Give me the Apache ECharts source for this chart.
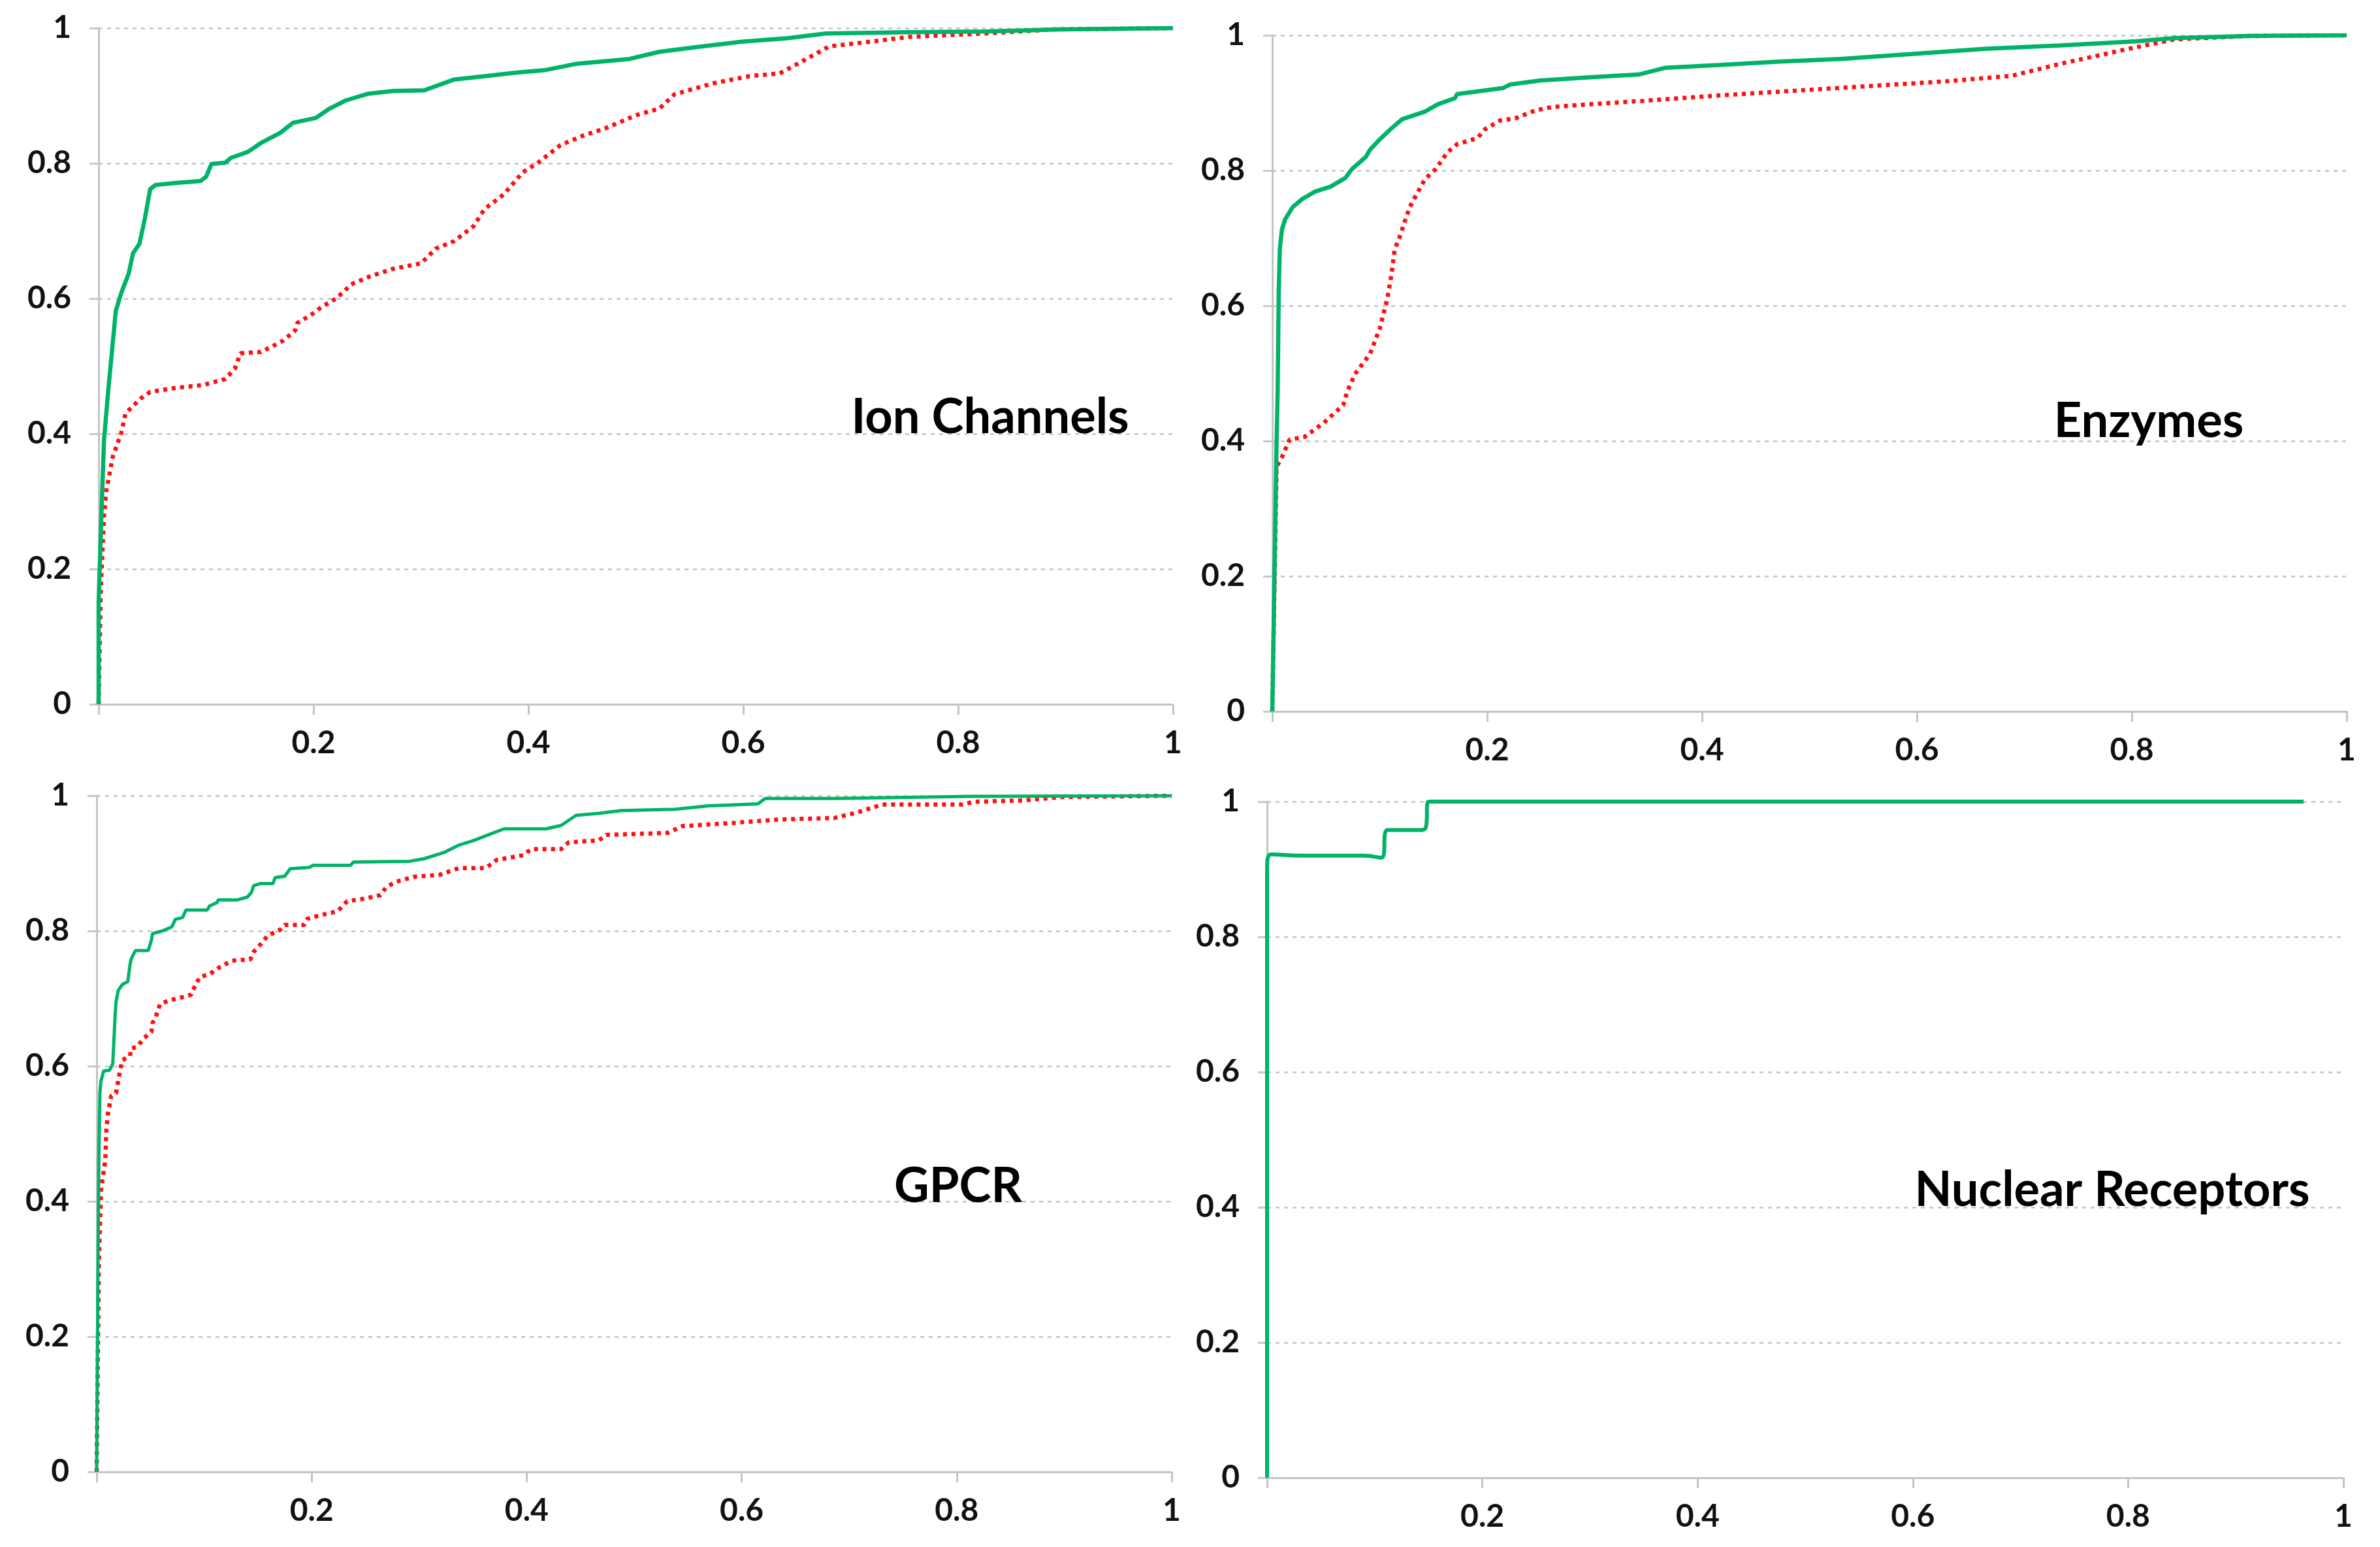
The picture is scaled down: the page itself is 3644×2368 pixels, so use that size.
<!DOCTYPE html>
<html>
<head>
<meta charset="utf-8">
<script src="https://cdn.jsdelivr.net/npm/echarts@6/dist/echarts.min.js"></script>
<style>
html,body{margin:0;padding:0;background:#fff;}
#c{width:3644px;height:2368px;}
</style>
</head>
<body>
<div id="c"></div>
<script>
// ---------- DATA ----------
const panelTitles = ['Ion Channels', 'Enzymes', 'GPCR', 'Nuclear Receptors'];
const xTicks = [0, 0.2, 0.4, 0.6, 0.8, 1];
const yTicks = [0, 0.2, 0.4, 0.6, 0.8, 1];

const ionSolid = [[0,0],[0,0.15],[0.003,0.3],[0.005,0.39],[0.009,0.465],[0.016,0.582],[0.021,0.608],[0.028,0.637],[0.032,0.667],[0.038,0.681],[0.043,0.718],[0.048,0.762],[0.053,0.768],[0.072,0.771],[0.095,0.774],[0.1,0.78],[0.105,0.799],[0.118,0.801],[0.123,0.808],[0.139,0.817],[0.151,0.83],[0.169,0.845],[0.181,0.86],[0.202,0.867],[0.214,0.88],[0.23,0.893],[0.251,0.903],[0.274,0.907],[0.303,0.908],[0.331,0.924],[0.36,0.929],[0.388,0.934],[0.416,0.938],[0.444,0.947],[0.493,0.954],[0.522,0.965],[0.557,0.972],[0.599,0.98],[0.641,0.985],[0.677,0.992],[0.754,0.994],[0.825,0.995],[0.895,0.998],[1,1]];
const ionDotted = [[0,0],[0.002,0.17],[0.005,0.278],[0.007,0.314],[0.013,0.365],[0.021,0.401],[0.025,0.43],[0.039,0.452],[0.048,0.462],[0.072,0.468],[0.097,0.472],[0.118,0.481],[0.127,0.497],[0.132,0.519],[0.151,0.521],[0.165,0.532],[0.172,0.538],[0.183,0.553],[0.185,0.564],[0.197,0.575],[0.207,0.587],[0.221,0.6],[0.228,0.61],[0.235,0.621],[0.253,0.633],[0.274,0.644],[0.3,0.652],[0.314,0.674],[0.331,0.685],[0.349,0.707],[0.359,0.732],[0.377,0.754],[0.395,0.787],[0.409,0.801],[0.43,0.827],[0.451,0.841],[0.472,0.852],[0.5,0.871],[0.522,0.881],[0.536,0.902],[0.571,0.918],[0.606,0.929],[0.634,0.933],[0.655,0.951],[0.68,0.973],[0.719,0.98],[0.754,0.987],[0.825,0.992],[0.888,0.998],[1,1]];

const enzSolid = [[0,0],[0.002,0.2],[0.004,0.398],[0.005,0.474],[0.006,0.62],[0.007,0.684],[0.009,0.713],[0.012,0.728],[0.019,0.746],[0.028,0.758],[0.04,0.769],[0.054,0.776],[0.068,0.789],[0.074,0.802],[0.087,0.82],[0.091,0.831],[0.1,0.846],[0.11,0.861],[0.121,0.876],[0.142,0.887],[0.154,0.898],[0.17,0.907],[0.172,0.913],[0.215,0.922],[0.221,0.927],[0.249,0.933],[0.296,0.938],[0.341,0.942],[0.366,0.952],[0.416,0.956],[0.472,0.961],[0.529,0.965],[0.592,0.972],[0.663,0.98],[0.734,0.985],[0.804,0.991],[0.84,0.996],[0.91,0.999],[1,1]];
const enzDotted = [[0,0],[0.002,0.18],[0.004,0.362],[0.009,0.376],[0.016,0.402],[0.03,0.406],[0.048,0.427],[0.066,0.453],[0.07,0.474],[0.077,0.499],[0.091,0.529],[0.1,0.566],[0.107,0.61],[0.111,0.647],[0.114,0.684],[0.118,0.699],[0.124,0.728],[0.128,0.746],[0.133,0.761],[0.142,0.787],[0.152,0.802],[0.163,0.827],[0.172,0.839],[0.191,0.848],[0.198,0.861],[0.212,0.874],[0.226,0.877],[0.245,0.889],[0.261,0.894],[0.296,0.898],[0.345,0.903],[0.416,0.911],[0.486,0.918],[0.557,0.925],[0.628,0.932],[0.688,0.94],[0.734,0.958],[0.797,0.98],[0.84,0.994],[0.91,0.999],[1,1]];

const gpcrSolid = [[0,0],[0.001,0.25],[0.002,0.461],[0.003,0.56],[0.004,0.578],[0.0065,0.593],[0.012,0.594],[0.015,0.604],[0.017,0.67],[0.018,0.695],[0.02,0.712],[0.024,0.721],[0.029,0.725],[0.031,0.75],[0.032,0.758],[0.036,0.771],[0.048,0.771],[0.051,0.787],[0.052,0.796],[0.061,0.8],[0.07,0.806],[0.073,0.817],[0.08,0.82],[0.083,0.831],[0.103,0.831],[0.105,0.837],[0.112,0.842],[0.113,0.846],[0.131,0.846],[0.14,0.85],[0.144,0.857],[0.146,0.867],[0.152,0.87],[0.164,0.87],[0.166,0.879],[0.175,0.881],[0.18,0.892],[0.198,0.894],[0.201,0.897],[0.236,0.897],[0.239,0.902],[0.291,0.903],[0.305,0.907],[0.323,0.916],[0.337,0.927],[0.351,0.934],[0.369,0.945],[0.379,0.951],[0.418,0.951],[0.432,0.956],[0.446,0.971],[0.467,0.974],[0.488,0.978],[0.538,0.98],[0.569,0.985],[0.615,0.988],[0.622,0.996],[0.686,0.996],[0.813,0.999],[1,1]];
const gpcrDotted = [[0,0],[0.001,0.16],[0.002,0.307],[0.004,0.416],[0.008,0.461],[0.009,0.505],[0.0105,0.53],[0.0135,0.556],[0.018,0.56],[0.02,0.578],[0.022,0.596],[0.024,0.609],[0.031,0.615],[0.032,0.626],[0.038,0.629],[0.043,0.64],[0.051,0.651],[0.052,0.664],[0.055,0.673],[0.059,0.692],[0.067,0.697],[0.082,0.703],[0.088,0.706],[0.091,0.717],[0.096,0.732],[0.105,0.736],[0.115,0.747],[0.126,0.756],[0.143,0.758],[0.146,0.769],[0.154,0.783],[0.159,0.793],[0.171,0.802],[0.175,0.809],[0.193,0.809],[0.196,0.818],[0.21,0.824],[0.224,0.829],[0.233,0.844],[0.25,0.848],[0.264,0.853],[0.269,0.864],[0.277,0.872],[0.295,0.88],[0.319,0.883],[0.337,0.893],[0.362,0.893],[0.372,0.905],[0.397,0.912],[0.404,0.921],[0.432,0.921],[0.439,0.931],[0.467,0.934],[0.474,0.942],[0.531,0.945],[0.545,0.955],[0.594,0.96],[0.636,0.965],[0.686,0.967],[0.707,0.975],[0.731,0.987],[0.805,0.987],[0.816,0.991],[0.862,0.993],[0.897,0.998],[1,1]];

const nrSolid = [[0,0],[0,0.9],[0.004,0.922],[0.035,0.92],[0.09,0.92],[0.106,0.917],[0.112,0.958],[0.14,0.958],[0.147,0.96],[0.15,1],[0.2,1],[0.963,1]];

// ---------- STYLE ----------
const GREEN = '#00b368';
const RED = '#ff1010';
const FONT = 'Lato';
const grids = [
  {left:151, top:43, width:1645, height:1035},
  {left:1948, top:54, width:1645, height:1035},
  {left:148, top:1218, width:1646, height:1035},
  {left:1940, top:1227, width:1648, height:1035}
];
const titlePos = [[1516, 639], [3290, 645], [1467, 1816], [3234, 1822]];

function xAxisFor(i){
  return {
    type:'value', gridIndex:i, min:xTicks[0], max:xTicks[xTicks.length-1], interval:0.2,
    axisLine:{show:true, lineStyle:{color:'#c4c4c4', width:3}},
    axisTick:{show:true, length:16, lineStyle:{color:'#c4c4c4', width:3}},
    splitLine:{show:false},
    axisLabel:{margin:36, color:'#111', fontSize:48, fontWeight:'bold', fontFamily:FONT,
      formatter:function(v){return v===0?'':String(+v.toFixed(1));}}
  };
}
function yAxisFor(i){
  return {
    type:'value', gridIndex:i, min:yTicks[0], max:yTicks[yTicks.length-1], interval:0.2,
    axisLine:{show:true, lineStyle:{color:'#c4c4c4', width:3}},
    axisTick:{show:true, length:14, lineStyle:{color:'#c8c8c8', width:3}},
    splitLine:{show:true, lineStyle:{color:'#c4c4c4', width:2.5, type:[6,7]}},
    axisLabel:{margin:42, color:'#111', fontSize:48, fontWeight:'bold', fontFamily:FONT,
      formatter:function(v){return String(+v.toFixed(1));}}
  };
}
function solid(i, data, w){
  return {type:'line', xAxisIndex:i, yAxisIndex:i, data:data, showSymbol:false, symbol:'none',
    lineStyle:{color:GREEN, width:w}, z:3, animation:false};
}
function dotted(i, data){
  return {type:'line', xAxisIndex:i, yAxisIndex:i, data:data, showSymbol:false, symbol:'none',
    lineStyle:{color:RED, width:6.5, type:[6,7]}, z:2, animation:false};
}

const option = {
  backgroundColor:'#fff',
  animation:false,
  grid: grids,
  xAxis: [0,1,2,3].map(xAxisFor),
  yAxis: [0,1,2,3].map(yAxisFor),
  series: [
    dotted(0, ionDotted), solid(0, ionSolid, 6.5),
    dotted(1, enzDotted), solid(1, enzSolid, 6.5),
    dotted(2, gpcrDotted), solid(2, gpcrSolid, 5),
    Object.assign(solid(3, nrSolid, 6), {smooth:0.55})
  ],
  graphic: panelTitles.map(function(t, i){
    return {type:'text', x:titlePos[i][0], y:titlePos[i][1], z:10,
      style:{text:t, fill:'#000', font:'bold 74px ' + FONT, align:'center', verticalAlign:'middle',
        textAlign:'center', textVerticalAlign:'middle'}};
  })
};
const chart = echarts.init(document.getElementById('c'), null, {renderer:'canvas'});
chart.setOption(option);
</script>
</body>
</html>
